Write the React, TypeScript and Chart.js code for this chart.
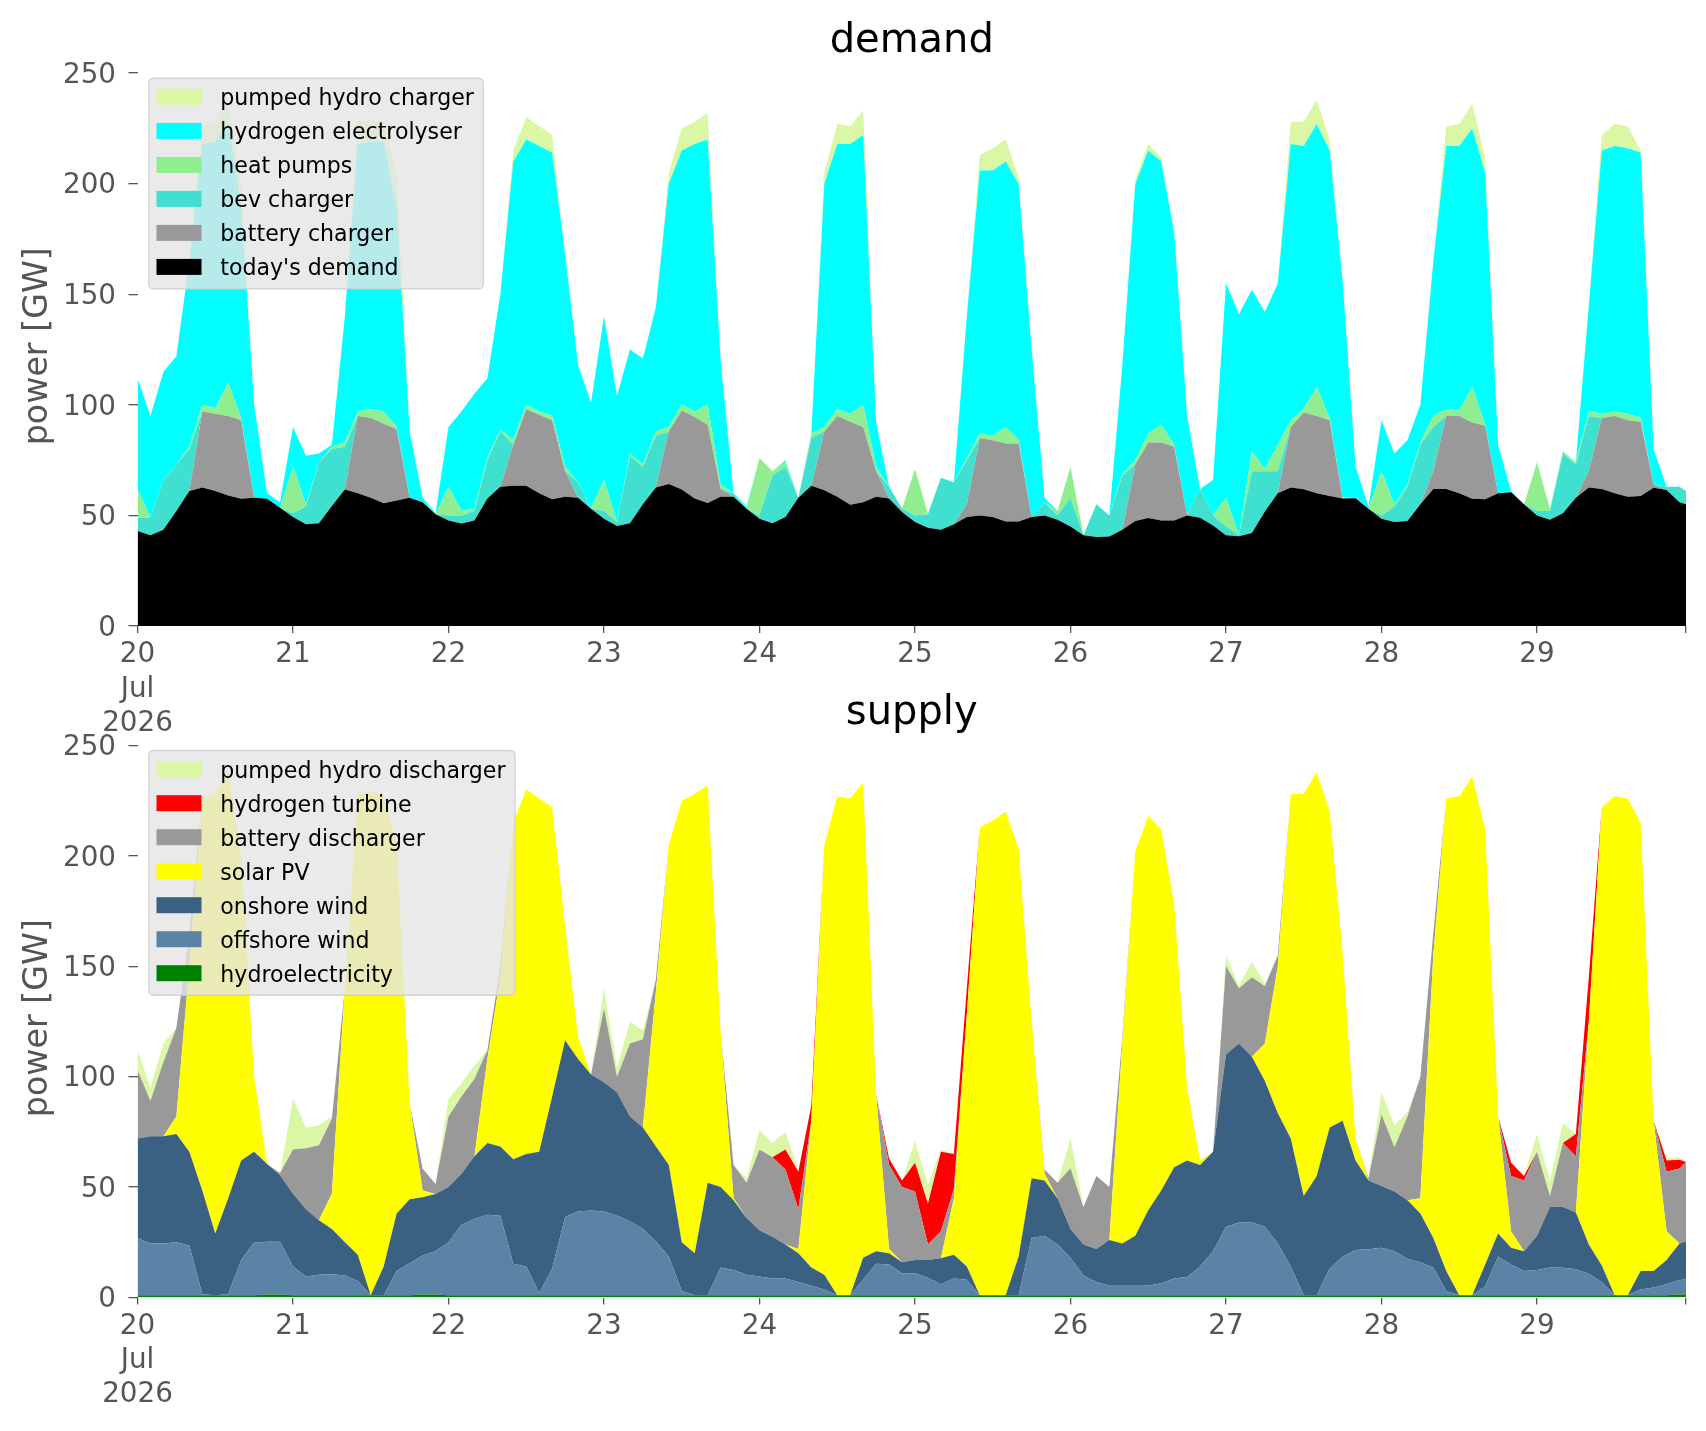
import React, { useEffect, useRef } from 'react';
import { Chart, registerables } from 'chart.js';

Chart.register(...registerables);

const FONT = '"DejaVu Sans", "Liberation Sans", sans-serif';
Chart.defaults.font.family = FONT;

// time axis: hours since 20 Jul 2026 00:00, sampled every 2 h, last sample 29 Jul 23:00
const HOURS: number[] = [];
for (let h = 0; h <= 238; h += 2) HOURS.push(h);
HOURS.push(239);

const DAY_TICKS = [0, 24, 48, 72, 96, 120, 144, 168, 192, 216];
const DAY_LABELS = ['20', '21', '22', '23', '24', '25', '26', '27', '28', '29'];
const MONTH_LABEL = 'Jul';
const YEAR_LABEL = '2026';
const Y_TICKS = [0, 50, 100, 150, 200, 250];
const X_END = 239;
const Y_MAX = 253;

// ---------------- demand (GW) ----------------
const TODAYS_DEMAND = [
  43, 41, 43.5, 52, 61, 62.6, 61, 59, 57.5, 58, 57.5, 53.5,
  49.3, 46, 46.5, 54.3, 61.7, 60, 58, 55.5, 56.8, 58, 56, 50.5,
  47.7, 46.4, 47.7, 57.6, 63, 63.4, 63.4, 60, 57.3, 58.4, 58, 53,
  48.5, 45.2, 46.5, 55, 62.6, 64.2, 61.7, 57.6, 55.6, 58.4, 58.4, 53,
  48.5, 46.5, 49.3, 58, 63.4, 61.4, 58.4, 54.8, 56, 58.4, 57.6, 51.5,
  47, 44.4, 43.5, 46, 49.3, 50, 49.3, 47.2, 47.2, 49.3, 50, 48,
  45, 41, 40.2, 40.5, 43.5, 47.5, 48.8, 47.7, 47.7, 50, 49, 45.5,
  41, 40.6, 42, 51.8, 60, 62.6, 61.8, 60, 58.8, 57.6, 57.8, 53,
  48.5, 47, 47.5, 55, 62, 62, 60, 57.5, 57.3, 60, 60.5, 55,
  50, 48, 51, 58, 62.6, 62, 60, 58.5, 58.8, 62.5, 61.5, 56,
  55,
];
const BATTERY_CHARGER = [
  0, 0, 0, 0, 0, 34.4, 35, 36, 35.5, 0, 0, 0,
  0, 0, 0, 0, 0, 35, 36, 36, 32.2, 0, 0, 0,
  0, 0, 0, 0, 0, 18.6, 34.6, 35.5, 35.7, 11.6, 0, 0,
  0, 0, 0, 0, 0, 23.8, 35.8, 36.9, 35.4, 3.6, 0, 0,
  0, 0, 0, 0, 0, 26.6, 36.6, 37.6, 34, 11.6, 0, 0,
  0, 0, 0, 0, 5.7, 35, 34.7, 35.3, 35.3, 0, 0, 0,
  0, 0, 0, 0, 0, 25.5, 34.2, 35.3, 33.3, 0, 0, 0,
  0, 0, 0, 0, 0, 27.4, 34.7, 35, 34.2, 0, 0, 0,
  0, 0, 0, 0, 8, 33, 35, 34.5, 33.2, 0, 0, 0,
  0, 0, 0, 0, 7.4, 32, 35, 34.5, 33.6, 1.5, 0, 0,
  0,
];
const BEV_CHARGER = [
  6, 8, 22.5, 21, 19, 0, 0, 0, 0, 0, 0, 0,
  1.7, 8, 27.5, 25.7, 19.3, 0, 0, 0, 0, 0, 0, 0,
  2.3, 3.6, 4.3, 17.4, 25, 0, 0, 0, 0, 0, 7, 0,
  3.5, 1.8, 30.5, 17, 23.4, 0, 0, 0, 0, 0, 1.6, 0,
  1.5, 21.5, 22.7, 0, 21.6, 0, 0, 0, 0, 0, 5.4, 1.5,
  3, 6.1, 23.5, 19, 20, 0, 0, 0, 0, 0, 6, 2,
  13, 0, 14.8, 9.5, 24.5, 0, 0, 0, 0, 0, 13, 4.5,
  4, 0.4, 28, 18.2, 10, 0, 0, 0, 0, 0, 0.2, 0,
  1.5, 7, 15.5, 27, 20, 0, 0, 0, 0, 0, 0.5, 0,
  2, 4, 27, 15, 25, 0, 0, 0, 0, 0, 1.5, 7,
  6,
];
const HEAT_PUMPS = [
  13, 0, 0, 0, 1, 3, 2.5, 15, 1, 0, 0, 0,
  21, 1, 0, 1, 2, 2, 4, 5.5, 1, 0, 0, 0,
  13, 2, 1, 1, 1, 2, 2, 1.5, 2, 2, 0, 0,
  14, 0, 1, 1, 2, 2, 2.5, 2.5, 9, 2, 0, 0,
  26, 2, 2, 0, 2, 2, 3, 3.6, 10, 2, 0, 0,
  21, 0, 0, 0, 1, 2, 2, 7.5, 1.5, 0, 0, 2,
  14, 0, 0, 0, 1, 2, 4, 8, 1, 0, 0, 0,
  13, 0, 9, 1, 12, 3, 1.7, 13, 1, 0.4, 0, 0,
  20, 1, 1, 1, 5, 3, 2.4, 16, 0.5, 0, 0, 0,
  22, 1, 1, 1, 2, 2, 2, 3, 1.6, 0, 0, 0,
  0,
];
const HYDROGEN_ELECTROLYSER = [
  50, 46, 49, 49, 84, 118, 120.5, 118, 96, 42, 2.5, 2.5,
  18, 22, 4, 1, 57, 121, 121, 122, 100, 30, 2, 0.5,
  27, 45, 52, 36, 61, 126, 120, 120, 119, 96, 53, 48,
  74, 57, 47, 48, 56, 110, 115, 121, 120, 56, 0, 1,
  0, 0, 1, 0, 0, 110, 120, 122, 122, 20, 0, 0,
  0, 0, 0, 0, 64, 119, 120, 120, 116, 75.7, 2, 0,
  0, 0, 0, 0, 49, 125, 128, 119, 96, 45, 0, 16,
  97, 100, 73, 71, 73, 125, 118.8, 119, 121, 98, 14, 1,
  23, 23, 20, 17, 70, 119, 119.6, 117, 114, 22, 0, 0,
  0, 0, 0, 0, 48, 119, 120, 120, 120, 16, 0, 0,
  0,
];
const PUMPED_HYDRO_CHARGER = [
  0, 0, 0, 0, 0, 8, 9, 10, 10, 0, 0, 0,
  0, 0, 0, 0, 0, 10, 10, 9, 15, 0, 0, 0,
  0, 0, 0, 0, 0, 5, 10, 9, 8, 0, 0, 0,
  0, 0, 0, 0, 0, 5, 10, 10, 12, 0, 0, 0,
  0, 0, 0, 0, 0, 5, 9, 8, 11, 0, 0, 0,
  0, 0.5, 0, 0, 0, 7, 10, 10, 3, 0, 0, 0,
  0, 0, 0, 0, 0, 2, 3, 2, 0, 0, 0, 0,
  0, 0, 0, 0, 0, 10, 11, 11, 5, 0, 0, 0,
  0, 0, 0, 0, 0, 9, 10, 11, 7, 0, 0, 0,
  0, 0, 0, 0, 0, 7, 10, 10, 1, 0, 0, 0,
  0,
];

// ---------------- supply (GW) ----------------
const HYDROELECTRICITY = [
  1, 1, 1, 1, 1, 1, 1, 1, 1, 1, 1.4, 1.4,
  1, 1, 1, 1, 1, 1, 1, 1, 1, 1, 1.4, 1.4,
  1, 1, 1, 1, 1, 1, 1, 1, 1, 1, 1, 1,
  1, 1, 1, 1, 1, 1, 1, 1, 1, 1, 1, 1,
  1, 1, 1, 1, 1, 1, 1, 1, 1, 1, 1, 1,
  1, 1, 1, 1, 1, 1, 1, 1, 1, 1, 1, 1,
  1, 1, 1, 1, 1, 1, 1, 1, 1, 1, 1, 1,
  1, 1, 1, 1, 1, 1, 1, 1, 1, 1, 1, 1,
  1, 1, 1, 1, 1, 1, 1, 1, 1, 1, 1, 1,
  1, 1, 1, 1, 1, 1, 1, 1, 1, 1, 1, 1.4,
  1.4,
];
const OFFSHORE_WIND = [
  26, 23.5, 23.4, 24, 22.5, 0.5, 0, 0.5, 16, 23.8, 23.8, 23.8,
  13, 8.5, 9.3, 9.5, 9, 6.5, 0, 0, 11, 14.5, 17.6, 19.5,
  24, 32, 34.5, 36.5, 36, 14.3, 13, 1, 12, 35.5, 38, 38.4,
  38, 36, 33.5, 30, 24.5, 17.6, 2, 0, 0, 12.6, 11.5, 9.3,
  8.5, 7.6, 7.6, 6, 4.3, 2.6, 0, 0, 7, 14.3, 14, 10,
  10, 8, 5, 7.6, 7, 0, 0, 0, 0, 26, 27, 23,
  17, 9, 6, 4.3, 4.3, 4.3, 4.3, 5.5, 7.6, 8.3, 13, 20,
  31, 33, 33, 31, 23.4, 13, 0, 0, 12, 17.5, 20.5, 20.9,
  21.5, 20, 16.5, 15, 12.5, 2, 0, 0, 4, 17.6, 14, 11,
  11.5, 12.6, 12.5, 11.8, 9.8, 6, 0, 0, 2.6, 3.5, 5, 6.5,
  6.8,
];
const ONSHORE_WIND = [
  45, 48.5, 48.6, 49, 42.5, 47, 28, 43.5, 45, 41.2, 35.2, 30.2,
  33, 30.5, 24.7, 20.5, 15, 11.9, 0, 13, 26, 29, 26.4, 26,
  25, 23, 28.5, 32.5, 31.4, 47.3, 51, 64, 78, 80, 69, 61.6,
  58.5, 56, 47.5, 46, 43, 41.4, 22, 19, 51, 36.4, 31.5, 25.7,
  21, 18.9, 15.4, 13, 8.3, 6.7, 0, 0, 10, 5.7, 5, 5,
  6, 8, 11.8, 10.8, 6, 0, 0, 0, 17.6, 27, 25, 21,
  13, 14, 15, 20.7, 19.1, 22.7, 34.2, 42, 50.4, 52.7, 46, 45,
  78, 81, 75, 66, 59, 58, 45, 54, 64, 61.5, 40.5, 31.1,
  28, 27, 26.5, 22, 13.5, 9, 0, 0, 10, 10.4, 7.5, 9,
  15.5, 27.4, 27.5, 25.7, 13.2, 7.5, 0, 0, 8.4, 7.5, 11, 16.5,
  17.2,
];
const SOLAR_PV = [
  0, 0, 0, 8, 84, 177.5, 199, 193, 138, 34, 0, 0,
  0, 0, 0, 16, 115, 208.6, 228, 214, 167, 43.5, 3, 0,
  0, 0, 0, 38, 76.6, 152.4, 165, 160, 131, 51.5, 10, 0,
  0, 0, 0, 0, 69.5, 145, 200, 208, 180, 70, 1, 0,
  0, 0, 0, 2, 66.4, 194.7, 226, 225, 215, 71, 2, 0,
  0, 0, 0, 25.6, 114, 212, 215, 219, 184.4, 71, 3, 0,
  0, 0, 0, 0, 90.6, 174, 178.5, 163.5, 119, 33, 2, 0,
  0, 0, 0, 17, 66.6, 156, 182, 183, 143, 76, 10, 0,
  0, 0, 0, 7, 128, 214, 226, 235, 197, 53, 7.5, 0,
  0, 0, 0, 0, 101, 207.5, 226, 225, 203, 68, 13, 0,
  0,
];
const BATTERY_DISCHARGER = [
  31, 16, 33.6, 40, 15, 0, 0, 0, 0, 0, 0, 1,
  20, 27.6, 34, 34, 0, 0, 0, 0, 0, 0, 10, 4.5,
  32, 35, 35, 4, 5, 0, 0, 0, 0, 0, 0, 0,
  33.5, 7, 33, 40, 6, 0, 0, 0, 0, 0, 15, 16,
  36.5, 36, 34, 18, 0, 0, 0, 0, 0, 0, 38, 34,
  31, 7, 12.2, 4, 0, 0, 0, 0, 0, 0, 2, 7,
  27.5, 17, 33, 24, 3, 0, 0, 0, 0, 0, 0, 0,
  40, 25, 36, 26, 5, 0, 0, 0, 0, 0, 0, 1,
  32.5, 20, 38, 55, 10, 0, 0, 0, 0, 0, 25, 32,
  38, 5, 29, 25.5, 0, 0, 0, 0, 0, 0, 27, 34,
  36,
];
const HYDROGEN_TURBINE = [
  0, 0, 0, 0, 0, 0, 0, 0, 0, 0, 0, 0,
  0, 0, 0, 0, 0, 0, 0, 0, 0, 0, 0, 0,
  0, 0, 0, 0, 0, 0, 0, 0, 0, 0, 0, 0,
  0, 0, 0, 0, 0, 0, 0, 0, 0, 0, 0, 0,
  0, 0, 9, 17, 7, 0, 0, 0, 0, 0, 3, 3,
  13, 18.5, 36, 16, 12, 0, 0, 0, 0, 0, 0, 0,
  0, 0, 0, 0, 0, 0, 0, 0, 0, 0, 0, 0,
  0, 0, 0, 0, 0, 0, 0, 0, 0, 0, 0, 0,
  0, 0, 0, 0, 0, 0, 0, 0, 0, 0, 6, 2,
  0, 0, 0, 10, 20, 0, 0, 0, 0, 0, 5, 4,
  0,
];
const PUMPED_HYDRO_DISCHARGER = [
  9, 6, 8.4, 0, 0, 0, 0, 0, 0, 0, 0, 0,
  23, 9.4, 9, 1, 0, 0, 0, 0, 0, 0, 0, 0,
  8, 6, 6, 0, 0, 0, 0, 0, 0, 0, 0, 0,
  9, 4, 10, 4, 0, 0, 0, 0, 0, 0, 0, 2,
  9, 6.5, 8, 1, 0, 0, 0, 0, 0, 0, 0, 0,
  10, 8.5, 1, 0, 0, 0, 0, 0, 0, 0, 0, 0,
  13.5, 0, 0, 0, 0, 0, 0, 0, 0, 0, 0, 0,
  5, 1, 7, 1, 0, 0, 0, 0, 0, 0, 0, 0,
  10, 10, 2, 0, 0, 0, 0, 0, 0, 0, 0, 0,
  8, 7, 9, 0, 0, 0, 0, 0, 0, 0, 1, 1,
  0,
];

type Layer = { label: string; color: string; data: number[] };

// bottom -> top
const DEMAND_LAYERS: Layer[] = [
  { label: "today's demand", color: '#000000', data: TODAYS_DEMAND },
  { label: 'battery charger', color: '#999999', data: BATTERY_CHARGER },
  { label: 'bev charger', color: '#40E0D0', data: BEV_CHARGER },
  { label: 'heat pumps', color: '#90EE90', data: HEAT_PUMPS },
  { label: 'hydrogen electrolyser', color: '#00FFFF', data: HYDROGEN_ELECTROLYSER },
  { label: 'pumped hydro charger', color: '#DAF7A6', data: PUMPED_HYDRO_CHARGER },
];
const SUPPLY_LAYERS: Layer[] = [
  { label: 'hydroelectricity', color: '#008000', data: HYDROELECTRICITY },
  { label: 'offshore wind', color: '#5B83A6', data: OFFSHORE_WIND },
  { label: 'onshore wind', color: '#3B6182', data: ONSHORE_WIND },
  { label: 'solar PV', color: '#FFFF00', data: SOLAR_PV },
  { label: 'battery discharger', color: '#999999', data: BATTERY_DISCHARGER },
  { label: 'hydrogen turbine', color: '#FF0000', data: HYDROGEN_TURBINE },
  { label: 'pumped hydro discharger', color: '#DAF7A6', data: PUMPED_HYDRO_DISCHARGER },
];

function roundRect(ctx: CanvasRenderingContext2D, x: number, y: number, w: number, h: number, r: number) {
  ctx.beginPath();
  ctx.moveTo(x + r, y);
  ctx.lineTo(x + w - r, y);
  ctx.arcTo(x + w, y, x + w, y + r, r);
  ctx.lineTo(x + w, y + h - r);
  ctx.arcTo(x + w, y + h, x + w - r, y + h, r);
  ctx.lineTo(x + r, y + h);
  ctx.arcTo(x, y + h, x, y + h - r, r);
  ctx.lineTo(x, y + r);
  ctx.arcTo(x, y, x + r, y, r);
  ctx.closePath();
}

const Y_TICK_LEN = 9;
const Y_TICK_PAD = 12.5;

function decorPlugin(title: string, titleY: number, layers: Layer[]) {
  const legendItems = layers.slice().reverse();
  return {
    id: 'decor',
    afterDraw(chart: any) {
      const ctx: CanvasRenderingContext2D = chart.ctx;
      const ca = chart.chartArea;
      const ys = chart.scales.y;
      ctx.save();
      // title
      ctx.fillStyle = '#000000';
      ctx.font = `40px ${FONT}`;
      ctx.textAlign = 'center';
      ctx.textBaseline = 'alphabetic';
      ctx.fillText(title, (ca.left + ca.right) / 2, titleY);
      // y tick labels (positions from the chart's own y scale)
      ctx.font = `27.8px ${FONT}`;
      ctx.fillStyle = '#555555';
      ctx.textAlign = 'right';
      ctx.textBaseline = 'middle';
      Y_TICKS.forEach((v) => {
        ctx.fillText(String(v), ca.left - Y_TICK_LEN - Y_TICK_PAD, ys.getPixelForValue(v) + 2.5);
      });
      // y label
      ctx.save();
      ctx.translate(38, (ca.top + ca.bottom) / 2);
      ctx.rotate(-Math.PI / 2);
      ctx.font = `33.3px ${FONT}`;
      ctx.fillStyle = '#555555';
      ctx.textAlign = 'center';
      ctx.textBaseline = 'middle';
      ctx.fillText('power [GW]', 0, 0);
      ctx.restore();
      // legend
      ctx.font = `22.1px ${FONT}`;
      const maxW = Math.max(...legendItems.map((l) => ctx.measureText(l.label).width));
      const left = ca.left + 11.3;
      const top = ca.top + 11.7;
      const textX = left + 71.5;
      const w = textX + maxW + 9.5 - left;
      const h = legendItems.length * 34 + 6.7;
      roundRect(ctx, left, top, w, h, 4.6);
      ctx.fillStyle = 'rgba(229,229,229,0.8)';
      ctx.fill();
      ctx.strokeStyle = 'rgba(204,204,204,0.8)';
      ctx.lineWidth = 1.4;
      ctx.stroke();
      legendItems.forEach((l, i) => {
        const cy = top + 18.7 + i * 34;
        ctx.fillStyle = l.color;
        ctx.fillRect(left + 7.7, cy - 8, 45, 16);
        ctx.fillStyle = '#000000';
        ctx.textAlign = 'left';
        ctx.textBaseline = 'alphabetic';
        ctx.fillText(l.label, textX, cy + 8.3);
      });
      ctx.restore();
    },
  };
}

type ChartProps = {
  layers: Layer[];
  title: string;
  titleY: number;
  top: number;
  height: number;
  padTop: number;
  plotBottom: number;
};

function StackChart({ layers, title, titleY, top, height, padTop, plotBottom }: ChartProps) {
  const ref = useRef<HTMLCanvasElement | null>(null);
  useEffect(() => {
    const canvas = ref.current;
    if (!canvas) return;
    const datasets = layers.map((l, i) => ({
      label: l.label,
      data: HOURS.map((h, k) => ({ x: h, y: l.data[k] })),
      backgroundColor: l.color,
      borderColor: l.color,
      borderWidth: 0,
      pointRadius: 0,
      pointHoverRadius: 0,
      tension: 0,
      fill: i === 0 ? 'origin' : '-1',
    }));
    const xHeight = height - plotBottom;
    const chart = new Chart(canvas, {
      type: 'line',
      data: { datasets: datasets as any },
      plugins: [decorPlugin(title, titleY, layers) as any],
      options: {
        responsive: false,
        animation: false,
        events: [],
        layout: { padding: { top: padTop, right: 20, left: 0, bottom: 0 } },
        plugins: {
          legend: { display: false },
          tooltip: { enabled: false },
          title: { display: false },
        },
        scales: {
          x: {
            type: 'linear',
            min: 0,
            max: X_END,
            border: { display: false },
            grid: {
              display: true,
              drawOnChartArea: false,
              drawTicks: true,
              tickLength: 7,
              color: '#555555',
              lineWidth: 1.3,
            },
            ticks: {
              autoSkip: false,
              maxRotation: 0,
              minRotation: 0,
              padding: 5,
              color: '#555555',
              font: { size: 27.8, family: FONT, lineHeight: 1.23 },
              callback: (v: any) => {
                const idx = DAY_TICKS.indexOf(Number(v));
                if (idx === 0) return [DAY_LABELS[0], MONTH_LABEL, YEAR_LABEL];
                if (idx > 0) return DAY_LABELS[idx];
                return '';
              },
            },
            afterBuildTicks: (s: any) => {
              s.ticks = DAY_TICKS.concat([X_END]).map((v) => ({ value: v }));
            },
            afterFit: (s: any) => {
              s.height = xHeight;
            },
          },
          y: {
            type: 'linear',
            stacked: true,
            min: 0,
            max: Y_MAX,
            border: { display: false },
            grid: {
              display: true,
              drawOnChartArea: false,
              drawTicks: true,
              tickLength: Y_TICK_LEN,
              color: '#555555',
              lineWidth: 1.3,
            },
            ticks: {
              display: false,
            },
            afterBuildTicks: (s: any) => {
              s.ticks = Y_TICKS.map((v) => ({ value: v }));
            },
            afterFit: (s: any) => {
              s.width = 137.5;
            },
          },
        },
      } as any,
    });
    return () => chart.destroy();
  }, []);
  return (
    <canvas
      ref={ref}
      width={1706}
      height={height}
      style={{ position: 'absolute', left: 0, top, width: 1706, height }}
    />
  );
}

export default function App() {
  return (
    <div
      style={{
        position: 'absolute',
        left: 0,
        top: 0,
        width: 1706,
        height: 1431,
        background: '#ffffff',
        overflow: 'hidden',
      }}
    >
      <StackChart layers={DEMAND_LAYERS} title="demand" titleY={52} top={0} height={760} padTop={66.5} plotBottom={626} />
      <StackChart layers={SUPPLY_LAYERS} title="supply" titleY={44} top={680} height={751} padTop={58.8} plotBottom={617.5} />
    </div>
  );
}
